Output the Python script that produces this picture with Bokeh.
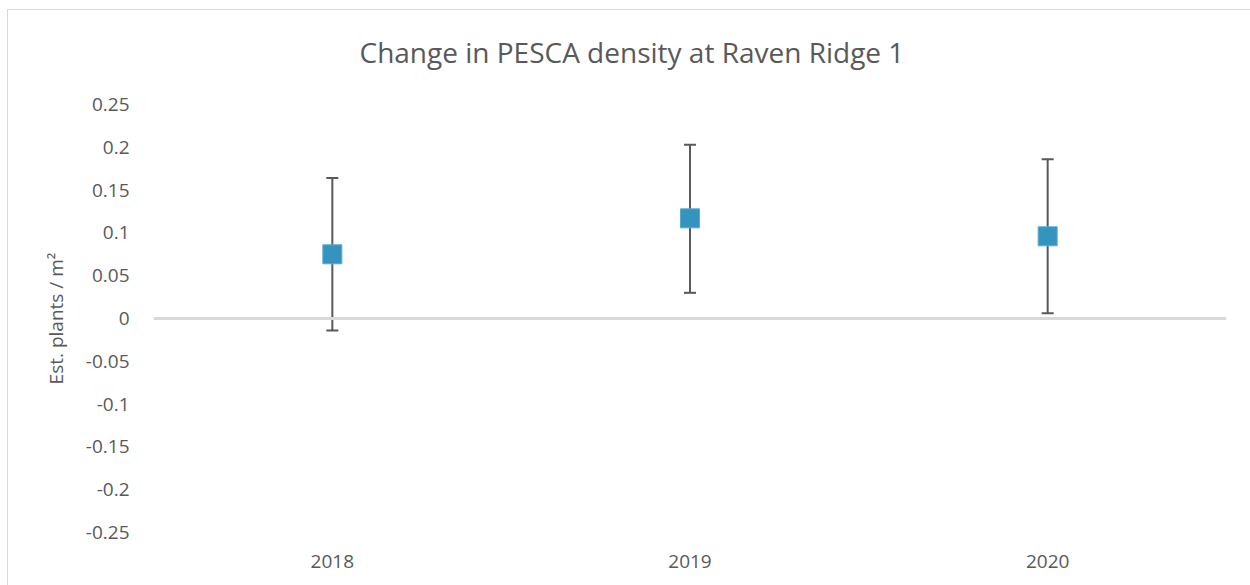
from bokeh.plotting import figure
from bokeh.models import (Range1d, FactorRange, Whisker, TeeHead, Span,
                          FixedTicker, CustomJSTickFormatter, ColumnDataSource)
from bokeh.embed import file_html
from bokeh.resources import INLINE

# ---- data ----
years = ["2018", "2019", "2020"]
density = [0.075, 0.117, 0.096]
err_upper = [0.164, 0.203, 0.186]
err_lower = [-0.014, 0.030, 0.006]
y_ticks = [-0.25, -0.2, -0.15, -0.1, -0.05, 0, 0.05, 0.1, 0.15, 0.2, 0.25]

title_text = "Change in PESCA density at Raven Ridge 1"
y_label = "Est. plants / m\u00b2"

FONT = "Open Sans"
TXT = "#595959"

src = ColumnDataSource(dict(x=years, y=density, upper=err_upper, lower=err_lower))

p = figure(width=1250, height=585, x_range=FactorRange(*years),
           y_range=Range1d(y_ticks[0], y_ticks[-1]),
           output_backend="svg", toolbar_location=None,
           min_border_left=153, min_border_right=24,
           min_border_top=103, min_border_bottom=53)
# light chart-area border (top and left edges) drawn behind the transparent canvas
p.styles = {"background-image": "linear-gradient(#d9d9d9,#d9d9d9), linear-gradient(#d9d9d9,#d9d9d9)",
            "background-size": "100% 1px, 1px 100%",
            "background-position": "7px 9px, 7px 9px",
            "background-repeat": "no-repeat"}

p.outline_line_color = None
p.xgrid.grid_line_color = None
p.ygrid.grid_line_color = None
p.background_fill_color = "white"
p.border_fill_color = None

# title
p.title.text = title_text
p.title.align = "left"
p.title.vertical_align = "top"
p.title.offset = 206
p.title.standoff = 64
p.title.text_font = FONT
p.title.text_font_size = "28px"
p.title.text_font_style = "normal"
p.title.text_color = TXT

# zero line
p.add_layout(Span(location=0, dimension="width", line_color="#d9d9d9", line_width=3))

# error bars
wh = Whisker(source=src, base="x", upper="upper", lower="lower",
             line_color="#595959", line_width=2,
             upper_head=TeeHead(size=12, line_color="#595959", line_width=2),
             lower_head=TeeHead(size=12, line_color="#595959", line_width=2))
p.add_layout(wh)

p.scatter("x", "y", source=src, marker="square", size=19,
          fill_color="#3494BE", line_color="#5AAAD0", line_width=1)

# y axis
ya = p.yaxis[0]
ya.ticker = FixedTicker(ticks=y_ticks)
ya.formatter = CustomJSTickFormatter(code="return String(Math.round(tick*100)/100);")
ya.axis_line_color = None
ya.major_tick_line_color = None
ya.minor_tick_line_color = None
ya.major_tick_out = 0
ya.major_label_standoff = 24
ya.major_label_text_font = FONT
ya.major_label_text_font_size = "19px"
ya.major_label_text_color = TXT
ya.axis_label = y_label
ya.axis_label_text_font = FONT
ya.axis_label_text_font_size = "19px"
ya.axis_label_text_font_style = "normal"
ya.axis_label_text_color = TXT
ya.axis_label_standoff = 14

# x axis
xa = p.xaxis[0]
xa.axis_line_color = None
xa.major_tick_line_color = None
xa.minor_tick_line_color = None
xa.major_tick_out = 0
xa.major_label_standoff = 22
xa.major_label_text_font = FONT
xa.major_label_text_font_size = "19px"
xa.major_label_text_color = TXT

open("out.html", "w").write(file_html(p, INLINE))
